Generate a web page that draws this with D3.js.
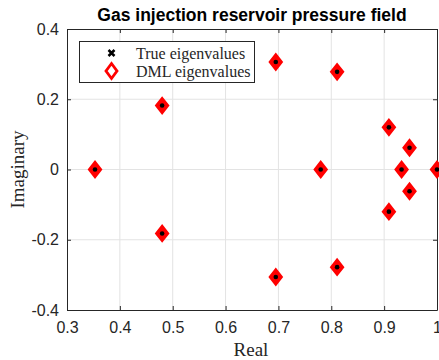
<!DOCTYPE html>
<meta charset="utf-8">
<style>
body { margin: 0; background: #fff; }
.tick text { font-family: "Liberation Sans", Arial, sans-serif; font-size: 16px; fill: #262626; }
</style>
<body>
<script src="https://d3js.org/d3.v7.min.js"></script>
<script>

// eigenvalues (real, imaginary)
var realParts = [0.353, 0.48, 0.48, 0.695, 0.695, 0.78, 0.811, 0.811, 0.909, 0.909, 0.933, 0.948, 0.948, 1.0];
var imagParts = [0, 0.182, -0.182, 0.306, -0.306, 0, 0.278, -0.278, 0.12, -0.12, 0, 0.062, -0.062, 0];
var xTicks = [0.3, 0.4, 0.5, 0.6, 0.7, 0.8, 0.9, 1];
var yTicks = [-0.4, -0.2, 0, 0.2, 0.4];
var legendLabels = ["True eigenvalues", "DML eigenvalues"];

var data = realParts.map(function(r, i) { return {x: r, y: imagParts[i]}; });

var margin = {top: 29, right: 2, bottom: 50, left: 67},
    width = 439 - margin.left - margin.right,
    height = 360 - margin.top - margin.bottom;

var x = d3.scaleLinear().domain([0.3, 1]).range([0, width]);
var y = d3.scaleLinear().domain([-0.4, 0.4]).range([height, 0]);

var svg = d3.select("body").append("svg")
    .attr("width", 439)
    .attr("height", 360);

var g = svg.append("g")
    .attr("transform", "translate(" + margin.left + "," + margin.top + ")");

// grid
g.append("g").selectAll("line").data(xTicks.slice(1, -1)).enter().append("line")
    .attr("x1", function(d) { return x(d); }).attr("x2", function(d) { return x(d); })
    .attr("y1", 0).attr("y2", height)
    .attr("stroke", "#e3e3e3").attr("stroke-width", 1);
g.append("g").selectAll("line").data(yTicks.slice(1, -1)).enter().append("line")
    .attr("y1", function(d) { return y(d); }).attr("y2", function(d) { return y(d); })
    .attr("x1", 0).attr("x2", width)
    .attr("stroke", "#e3e3e3").attr("stroke-width", 1);

// axes
g.append("g")
    .attr("transform", "translate(0," + height + ")")
    .call(d3.axisBottom(x).tickValues(xTicks).tickSizeInner(-4).tickSizeOuter(0).tickPadding(12)
      .tickFormat(function(d) { return d === 1 ? "1" : d3.format(".1f")(d); }));
g.append("g")
    .call(d3.axisLeft(y).tickValues(yTicks).tickSizeInner(-4).tickSizeOuter(0).tickPadding(8)
      .tickFormat(function(d) { return d === 0 ? "0" : d3.format(".1f")(d).replace("−", "-"); }));
g.append("g")
    .call(d3.axisTop(x).tickValues(xTicks).tickSizeInner(-4).tickSizeOuter(0).tickFormat(""));
g.append("g")
    .attr("transform", "translate(" + width + ",0)")
    .call(d3.axisRight(y).tickValues(yTicks).tickSizeInner(-4).tickSizeOuter(0).tickFormat(""));
g.selectAll(".domain").attr("stroke", "#262626");
g.selectAll(".tick line").attr("stroke", "#262626");

// DML eigenvalues (red diamonds)
var diamond = function(w, h) {
  return "M0," + (-h) + "L" + w + ",0L0," + h + "L" + (-w) + ",0Z";
};
g.append("g").selectAll("path").data(data).enter().append("path")
    .attr("transform", function(d) { return "translate(" + x(d.x) + "," + y(d.y) + ")"; })
    .attr("d", diamond(5.5, 7))
    .attr("fill", "#ff0000")
    .attr("stroke", "#ff0000")
    .attr("stroke-width", 3);

// true eigenvalues (black dots)
g.append("g").selectAll("circle").data(data).enter().append("circle")
    .attr("cx", function(d) { return x(d.x); })
    .attr("cy", function(d) { return y(d.y); })
    .attr("r", 2.3)
    .attr("fill", "#000");

// legend
var cross = function(s) {
  return "M" + (-s) + "," + (-s) + "L" + s + "," + s + "M" + (-s) + "," + s + "L" + s + "," + (-s);
};
var lg = svg.append("g");
lg.append("rect")
    .attr("x", 79.5).attr("y", 41.5).attr("width", 175).attr("height", 41)
    .attr("fill", "#fff").attr("stroke", "#262626").attr("stroke-width", 1);
lg.append("path")
    .attr("transform", "translate(111.5,53)")
    .attr("d", cross(3))
    .attr("stroke", "#000").attr("stroke-width", 2.5);
lg.append("path")
    .attr("transform", "translate(111.5,71)")
    .attr("d", diamond(5.5, 7.5))
    .attr("fill", "#fff").attr("stroke", "#ff0000").attr("stroke-width", 2.8);
lg.selectAll("text").data(legendLabels).enter().append("text")
    .attr("x", 136)
    .attr("y", function(d, i) { return 58.5 + i * 18; })
    .attr("font-family", "'Liberation Serif', 'Times New Roman', serif")
    .attr("font-size", 16)
    .attr("fill", "#262626")
    .text(function(d) { return d; });

// title and axis labels
svg.append("text")
    .attr("x", margin.left + width / 2).attr("y", 21)
    .attr("text-anchor", "middle")
    .attr("font-family", "'Liberation Sans', Arial, sans-serif")
    .attr("font-weight", "bold")
    .attr("font-size", 17.5)
    .attr("fill", "#000")
    .text("Gas injection reservoir pressure field");

svg.append("text")
    .attr("x", margin.left + width / 2 - 1).attr("y", 356)
    .attr("text-anchor", "middle")
    .attr("font-family", "'Liberation Serif', 'Times New Roman', serif")
    .attr("font-size", 19)
    .attr("fill", "#262626")
    .text("Real");

svg.append("text")
    .attr("transform", "translate(24," + (margin.top + height / 2) + ") rotate(-90)")
    .attr("text-anchor", "middle")
    .attr("font-family", "'Liberation Serif', 'Times New Roman', serif")
    .attr("font-size", 19)
    .attr("fill", "#262626")
    .text("Imaginary");

</script>
</body>
